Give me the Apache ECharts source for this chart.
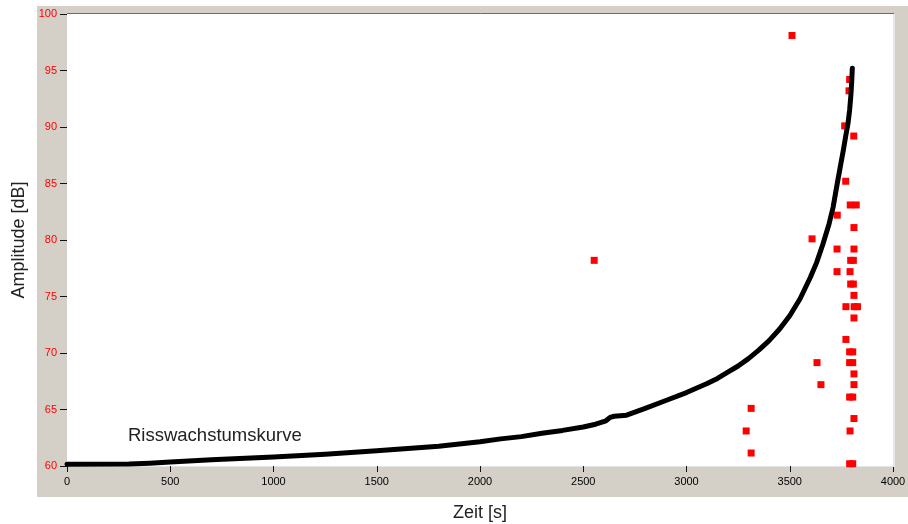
<!DOCTYPE html>
<html>
<head>
<meta charset="utf-8">
<script src="https://cdn.jsdelivr.net/npm/echarts@6/dist/echarts.min.js"></script>
<style>
html,body{margin:0;padding:0;background:#fff;}
#chart{width:908px;height:524px;}
</style>
</head>
<body>
<div id="chart"></div>
<script>
// Crack growth curve (time [s], amplitude [dB])
const curveTime = [0, 300, 400, 500, 700, 1000, 1250, 1500, 1800, 2000, 2100, 2200, 2300, 2400, 2500, 2560, 2610, 2630, 2650, 2710, 2800, 2900, 3000, 3050, 3100, 3150, 3200, 3250, 3300, 3350, 3400, 3450, 3500, 3550, 3600, 3630, 3660, 3690, 3710, 3730, 3745, 3760, 3772, 3782, 3790, 3796, 3800, 3803];
const curveAmp  = [60.15, 60.18, 60.25, 60.35, 60.55, 60.8, 61.05, 61.35, 61.75, 62.15, 62.4, 62.6, 62.9, 63.15, 63.45, 63.7, 64.0, 64.3, 64.4, 64.5, 65.1, 65.8, 66.5, 66.9, 67.3, 67.75, 68.3, 68.85, 69.5, 70.25, 71.1, 72.1, 73.3, 74.8, 76.7, 78.0, 79.6, 81.4, 82.9, 85.0, 86.5, 88.0, 89.3, 90.3, 91.5, 92.8, 94.0, 95.2];

// Acoustic emission hits (time [s], amplitude [dB])
const hitTime = [2553, 3511, 3790, 3787, 3766, 3810, 3771, 3793, 3822, 3730, 3811, 3608, 3729, 3811, 3795, 3808, 3729, 3792, 3795, 3808, 3811, 3772, 3812, 3828, 3811, 3772, 3790, 3805, 3632, 3790, 3805, 3811, 3651, 3811, 3790, 3805, 3313, 3811, 3289, 3792, 3313, 3790, 3805];
const hitAmp  = [78.2, 98.1, 94.2, 93.2, 90.1, 89.2, 85.2, 83.1, 83.1, 82.2, 81.1, 80.1, 79.2, 79.2, 78.2, 78.2, 77.2, 77.2, 76.1, 76.1, 75.1, 74.1, 74.1, 74.1, 73.1, 71.2, 70.1, 70.1, 69.15, 69.15, 69.15, 68.15, 67.2, 67.2, 66.1, 66.1, 65.1, 64.2, 63.1, 63.1, 61.15, 60.2, 60.2];

const xTicks = [0, 500, 1000, 1500, 2000, 2500, 3000, 3500, 4000];
const yTicks = [60, 65, 70, 75, 80, 85, 90, 95, 100];

const xTitle = 'Zeit [s]';
const yTitle = 'Amplitude [dB]';
const curveName = 'Risswachstumskurve';

const chart = echarts.init(document.getElementById('chart'), null, {renderer: 'canvas'});

const L = 67, T = 14, R = 15, B = 58;
const W = 908 - L - R, H = 524 - T - B;
const FONT = 'Liberation Sans, Arial, sans-serif';

const option = {
  animation: false,
  backgroundColor: '#ffffff',
  grid: {left: L, top: T, right: R, bottom: B, containLabel: false, outerBoundsMode: 'none',
         show: true, backgroundColor: '#ffffff', borderWidth: 0, z: 1},
  xAxis: {
    type: 'value', min: xTicks[0], max: xTicks[xTicks.length - 1], interval: 500,
    name: xTitle, nameLocation: 'middle', nameGap: 38,
    nameTextStyle: {fontFamily: FONT, fontSize: 18, color: '#222'},
    axisLine: {show: true, lineStyle: {color: '#e4e4e4', width: 2}},
    axisTick: {show: true, length: 6, lineStyle: {color: '#111', width: 1}},
    axisLabel: {fontFamily: FONT, fontSize: 11, color: '#000', margin: 10, formatter: v => String(v)},
    splitLine: {show: true, lineStyle: {color: '#e2e2e2', width: 1}}
  },
  yAxis: {
    type: 'value', min: yTicks[0], max: yTicks[yTicks.length - 1], interval: 5,
    name: yTitle, nameLocation: 'middle', nameGap: 38, nameRotate: 90,
    nameTextStyle: {fontFamily: FONT, fontSize: 18, color: '#222'},
    axisLine: {show: true, lineStyle: {color: '#6f6b60', width: 1}},
    axisTick: {show: true, length: 7, lineStyle: {color: '#111', width: 1}},
    axisLabel: {fontFamily: FONT, fontSize: 11, color: '#ff0000', margin: 10, formatter: v => String(v)},
    splitLine: {show: true, lineStyle: {color: '#e2e2e2', width: 1}}
  },
  graphic: [
    {type: 'rect', z: -10, silent: true, shape: {x: 37, y: 6, width: 871, height: 491}, style: {fill: '#d4d0c8'}},
    {type: 'line', z: 100, silent: true, shape: {x1: L, y1: T - 0.5, x2: L + W + 1, y2: T - 0.5}, style: {stroke: '#6f6b60', lineWidth: 1}},
    {type: 'line', z: 100, silent: true, shape: {x1: L + W + 1, y1: T, x2: L + W + 1, y2: T + H + 1}, style: {stroke: '#e8e8e8', lineWidth: 2}},
    {type: 'text', z: 100, silent: true, left: 128, top: 426, style: {text: curveName, font: '18.5px "Liberation Sans", Arial', fill: '#222'}}
  ],
  series: [
    {
      type: 'scatter', name: 'Hits', symbol: 'rect', symbolSize: 7, clip: true, z: 3,
      itemStyle: {color: '#ff0000', opacity: 1},
      data: hitTime.map((t, i) => [t, hitAmp[i]])
    },
    {
      type: 'line', name: curveName, showSymbol: false, smooth: false, z: 5,
      lineStyle: {color: '#000', width: 5, cap: 'round', join: 'round'},
      data: curveTime.map((t, i) => [t, curveAmp[i]])
    }
  ]
};
chart.setOption(option);
</script>
</body>
</html>
